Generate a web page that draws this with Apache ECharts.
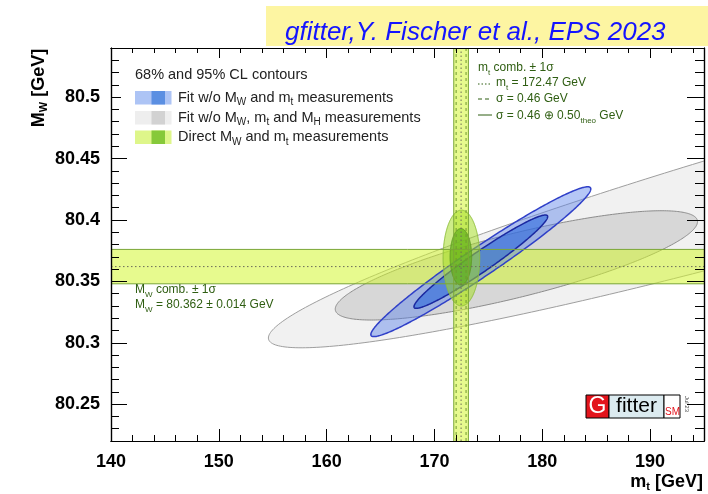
<!DOCTYPE html>
<html><head><meta charset="utf-8">
<script src="https://cdn.jsdelivr.net/npm/echarts@6/dist/echarts.min.js"></script>
<style>html,body{margin:0;padding:0;background:#fff}#c{width:708px;height:494px}</style>
</head><body><div id="c"></div>
<script>
// ---- axis ranges and tick values ----
const X_MIN = 140, X_MAX = 195;
const Y_MIN = 80.22, Y_MAX = 80.54;
const xMajor = [140, 150, 160, 170, 180, 190];
const xMinor = [142,144,146,148,152,154,156,158,162,164,166,168,172,174,176,178,182,184,186,188,192,194];
const yMajor = [80.25, 80.3, 80.35, 80.4, 80.45, 80.5];
const yMinor = [80.22,80.23,80.24,80.26,80.27,80.28,80.29,80.31,80.32,80.33,80.34,80.36,80.37,80.38,80.39,80.41,80.42,80.43,80.44,80.46,80.47,80.48,80.49,80.51,80.52,80.53,80.54];

// ---- direct measurements ----
const mtComb = 172.47, mtSigExp = 0.46, mtSigTheo = 0.50;
const mtSigTot = Math.sqrt(mtSigExp * mtSigExp + mtSigTheo * mtSigTheo);
const mwComb = 80.362, mwSig = 0.014;

// ---- contours: [centre mt, centre MW, half-extent mt, half-extent MW, correlation] ----
const grayOuter  = [206.5, 80.4315, 51.9, 0.1356, 0.941];
const grayInner  = [177.6, 80.363, 16.8, 0.0445, 0.80];
const blueOuter  = [174.3, 80.366, 10.2, 0.061, 0.972];
const blueInner  = [174.3, 80.366, 6.2, 0.038, 0.965];
const greenOuter = [172.5, 80.369, 1.7, 0.039, 0.0];
const greenInner = [172.45, 80.370, 1.0, 0.023, 0.0];

const FF = '"Liberation Sans", Arial, Helvetica, sans-serif';
const chart = echarts.init(document.getElementById('c'), null, {renderer: 'canvas'});

function clipOf(params) {
  const cs = params.coordSys;
  return {type: 'rect', shape: {x: cs.x, y: cs.y, width: cs.width, height: cs.height}};
}

function ellipseSeries(row, fill, stroke, lw) {
  return {
    type: 'custom', xAxisIndex: 0, yAxisIndex: 0, silent: true,
    data: [row],
    renderItem: function (params, api) {
      const cx = api.value(0), cy = api.value(1), hx = api.value(2), hy = api.value(3), rho = api.value(4);
      const s = Math.sqrt(1 - rho * rho);
      const pts = [];
      const N = 360;
      for (let i = 0; i < N; i++) {
        const t = i / N * 2 * Math.PI;
        pts.push(api.coord([cx + hx * Math.cos(t), cy + hy * (rho * Math.cos(t) + s * Math.sin(t))]));
      }
      return {type: 'group', clipPath: clipOf(params), children: [
        {type: 'polygon', shape: {points: pts}, style: {fill: fill, stroke: stroke, lineWidth: lw}}
      ]};
    }
  };
}

const bandFill = 'rgba(212,246,50,0.55)';
const bandLine = '#7aa636';

function bandFillSeries() {
  return {
    type: 'custom', xAxisIndex: 0, yAxisIndex: 0, silent: true,
    data: [[mtComb, mwComb, mtSigTot, mwSig]],
    renderItem: function (params, api) {
      const m = api.value(0), w = api.value(1), sm = api.value(2), sw = api.value(3);
      const h1 = api.coord([X_MIN, w + sw]), h2 = api.coord([X_MAX, w - sw]);
      const v1 = api.coord([m - sm, Y_MAX]), v2 = api.coord([m + sm, Y_MIN]);
      return {type: 'group', clipPath: clipOf(params), children: [
        {type: 'rect', shape: {x: h1[0], y: h1[1], width: h2[0] - h1[0], height: h2[1] - h1[1]}, style: {fill: bandFill}},
        {type: 'rect', shape: {x: v1[0], y: v1[1], width: v2[0] - v1[0], height: v2[1] - v1[1]}, style: {fill: bandFill}}
      ]};
    }
  };
}

function bandLineSeries() {
  return {
    type: 'custom', xAxisIndex: 0, yAxisIndex: 0, silent: true,
    data: [[mtComb, mwComb, mtSigTot, mwSig, mtSigExp]],
    renderItem: function (params, api) {
      const m = api.value(0), w = api.value(1), sm = api.value(2), sw = api.value(3), se = api.value(4);
      const kids = [];
      function hl(y, style) {
        const a = api.coord([X_MIN, y]), b = api.coord([X_MAX, y]);
        kids.push({type: 'line', shape: {x1: a[0], y1: a[1], x2: b[0], y2: b[1]}, style: style});
      }
      function vl(x, style) {
        const a = api.coord([x, Y_MIN]), b = api.coord([x, Y_MAX]);
        kids.push({type: 'line', shape: {x1: a[0], y1: a[1], x2: b[0], y2: b[1]}, style: style});
      }
      const solid = {stroke: bandLine, lineWidth: 1};
      const dotted = {stroke: '#6b6b5a', lineWidth: 1, lineDash: [1.5, 2.5]};
      const dashed = {stroke: '#6f9a30', lineWidth: 1, lineDash: [3, 3]};
      hl(w + sw, solid); hl(w - sw, solid); hl(w, dotted);
      vl(m + sm, solid); vl(m - sm, solid);
      vl(m + se, dashed); vl(m - se, dashed);
      vl(m, dotted);
      return {type: 'group', clipPath: clipOf(params), children: kids};
    }
  };
}

const labelFont = {fontFamily: FF, fontWeight: 'bold', fontSize: 18, color: '#000'};
const axLine = {show: true, lineStyle: {color: '#000', width: 1.2}};

function xAx(pos, vals, len, lab) {
  return {type: 'value', min: X_MIN, max: X_MAX, position: pos, z: 10,
    axisLine: axLine, splitLine: {show: false},
    axisTick: {show: true, inside: true, length: len, customValues: vals, lineStyle: {color: '#000', width: 1}},
    axisLabel: Object.assign({show: lab, customValues: vals, margin: 12}, labelFont)};
}
function yAx(pos, vals, len, lab) {
  return {type: 'value', min: Y_MIN, max: Y_MAX, position: pos, z: 10,
    axisLine: axLine, splitLine: {show: false},
    axisTick: {show: true, inside: true, length: len, customValues: vals, lineStyle: {color: '#000', width: 1}},
    axisLabel: Object.assign({show: lab, customValues: vals, margin: 11}, labelFont)};
}

function richFor(color, size) {
  return {s: {fontSize: size, fontFamily: FF, fill: color, color: color, padding: [10, 0, 0, 0]}};
}

const legendColor = '#222';
const annColor = '#2f5e12';
const G = [];
// banner
G.push({type: 'rect', shape: {x: 266, y: 6, width: 442, height: 40}, style: {fill: '#fdf5a2'}, z: 200});
G.push({type: 'text', x: 285, y: 32.5, z: 201, style: {text: 'gfitter,Y. Fischer et al., EPS 2023', font: 'italic 26px ' + FF, fill: '#1414ff', textAlign: 'left', align: 'left', textVerticalAlign: 'middle', verticalAlign: 'middle'}});
// legend white box
G.push({type: 'rect', shape: {x: 121, y: 61, width: 322, height: 90}, style: {fill: '#fff'}, z: 100});
G.push({type: 'text', x: 135, y: 75, z: 101, style: {text: '68% and 95% CL contours', font: '14.5px ' + FF, fill: legendColor, align: 'left', textAlign: 'left', verticalAlign: 'middle', textVerticalAlign: 'middle'}});
const legendRows = [
  {txt: 'Fit w/o M{s|W} and m{s|t} measurements', light: '#adc4f5', dark: '#5b8fe2', y: 97.5},
  {txt: 'Fit w/o M{s|W}, m{s|t} and M{s|H} measurements', light: '#eeeeee', dark: '#d2d2d2', y: 117.5},
  {txt: 'Direct M{s|W} and m{s|t} measurements', light: '#def68a', dark: '#86c93a', y: 137}
];
legendRows.forEach(function (r) {
  G.push({type: 'rect', shape: {x: 135, y: r.y - 6.5, width: 36.5, height: 13.5}, style: {fill: r.light}, z: 101});
  G.push({type: 'rect', shape: {x: 151.5, y: r.y - 6.5, width: 13.5, height: 13.5}, style: {fill: r.dark}, z: 102});
  G.push({type: 'text', x: 178, y: r.y, z: 101, style: {text: r.txt, font: '14.5px ' + FF, fill: legendColor, align: 'left', textAlign: 'left', verticalAlign: 'middle', textVerticalAlign: 'middle', rich: richFor(legendColor, 10)}});
});
// top-right annotation
const annStyle = function (t, x, y) {
  return {type: 'text', x: x, y: y, z: 101, style: {text: t, font: '12px ' + FF, fill: annColor, align: 'left', textAlign: 'left', verticalAlign: 'middle', textVerticalAlign: 'middle', rich: richFor(annColor, 8)}};
};
G.push(annStyle('m{s|t} comb. ± 1σ', 478, 68));
G.push(annStyle('m{s|t} = ' + mtComb.toFixed(2) + ' GeV', 496, 83));
G.push(annStyle('σ = ' + mtSigExp.toFixed(2) + ' GeV', 496, 98.5));
G.push(annStyle('σ = ' + mtSigExp.toFixed(2) + ' ⊕ ' + mtSigTheo.toFixed(2) + '{s|theo} GeV', 496, 115.5));
G.push({type: 'line', z: 101, shape: {x1: 478, y1: 84, x2: 492, y2: 84}, style: {stroke: annColor, lineWidth: 1, lineDash: [1.5, 2]}});
G.push({type: 'line', z: 101, shape: {x1: 478, y1: 99, x2: 492, y2: 99}, style: {stroke: annColor, lineWidth: 1, lineDash: [4, 3]}});
G.push({type: 'line', z: 101, shape: {x1: 478, y1: 115, x2: 492, y2: 115}, style: {stroke: annColor, lineWidth: 1}});
// left annotation
G.push(annStyle('M{s|W} comb. ± 1σ', 135, 290));
G.push(annStyle('M{s|W} = ' + mwComb.toFixed(3) + ' ± ' + mwSig.toFixed(3) + ' GeV', 135, 305));
// axis titles
G.push({type: 'text', x: 39, y: 88, rotation: Math.PI / 2, z: 101, style: {text: 'M{s|W} [GeV]', font: 'bold 18px ' + FF, fill: '#000', align: 'center', textAlign: 'center', verticalAlign: 'middle', textVerticalAlign: 'middle', rich: {s: {fontSize: 11, fontWeight: 'bold', fontFamily: FF, fill: '#000', padding: [10, 0, 0, 0]}}}});
G.push({type: 'text', x: 703, y: 482, z: 101, style: {text: 'm{s|t} [GeV]', font: 'bold 18px ' + FF, fill: '#000', align: 'right', textAlign: 'right', verticalAlign: 'middle', textVerticalAlign: 'middle', rich: {s: {fontSize: 11, fontWeight: 'bold', fontFamily: FF, fill: '#000', padding: [10, 0, 0, 0]}}}});
// logo
G.push({type: 'rect', z: 101, shape: {x: 586, y: 395, width: 23, height: 23}, style: {fill: '#e3141c', stroke: '#000', lineWidth: 1}});
G.push({type: 'text', z: 102, x: 597.5, y: 407, style: {text: 'G', font: '23px ' + FF, fill: '#fff', align: 'center', textAlign: 'center', verticalAlign: 'middle', textVerticalAlign: 'middle'}});
G.push({type: 'rect', z: 101, shape: {x: 609, y: 395, width: 55, height: 23}, style: {fill: '#dcebf0', stroke: '#000', lineWidth: 1}});
G.push({type: 'text', z: 102, x: 636.5, y: 406, style: {text: 'fitter', font: '21px ' + FF, fill: '#000', align: 'center', textAlign: 'center', verticalAlign: 'middle', textVerticalAlign: 'middle'}});
G.push({type: 'rect', z: 101, shape: {x: 664, y: 395, width: 16, height: 23}, style: {fill: '#fff', stroke: '#000', lineWidth: 1}});
G.push({type: 'text', z: 102, x: 672.5, y: 412, style: {text: 'SM', font: '10px ' + FF, fill: '#e3141c', align: 'center', textAlign: 'center', verticalAlign: 'middle', textVerticalAlign: 'middle'}});
G.push({type: 'text', z: 102, x: 687, y: 404, rotation: -Math.PI / 2, style: {text: 'Jul 23', font: '6px ' + FF, fill: '#444', align: 'center', textAlign: 'center', verticalAlign: 'middle', textVerticalAlign: 'middle'}});

const option = {
  animation: false,
  backgroundColor: '#fff',
  grid: {left: 111, top: 48, width: 593, height: 393, containLabel: false},
  xAxis: [xAx('bottom', xMajor, 12, true), xAx('bottom', xMinor, 6, false), xAx('top', xMajor, 10, false), xAx('top', xMinor, 5, false)],
  yAxis: [yAx('left', yMajor, 16, true), yAx('left', yMinor, 8, false), yAx('right', yMajor, 17, false), yAx('right', yMinor, 9, false)],
  series: [
    ellipseSeries(grayOuter, '#f1f1f1', '#9e9e9e', 1),
    ellipseSeries(grayInner, '#d7d7d7', '#8c8c8c', 1),
    bandFillSeries(),
    ellipseSeries(blueOuter, 'rgba(90,130,235,0.45)', '#3040c8', 1.5),
    ellipseSeries(blueInner, 'rgba(45,105,220,0.62)', '#1a28a0', 1.5),
    ellipseSeries(greenOuter, 'rgba(165,220,40,0.55)', '#8fbf3c', 1),
    ellipseSeries(greenInner, 'rgba(95,175,25,0.7)', '#5e9a22', 1),
    bandLineSeries()
  ],
  graphic: {elements: G}
};
chart.setOption(option);
</script></body></html>
